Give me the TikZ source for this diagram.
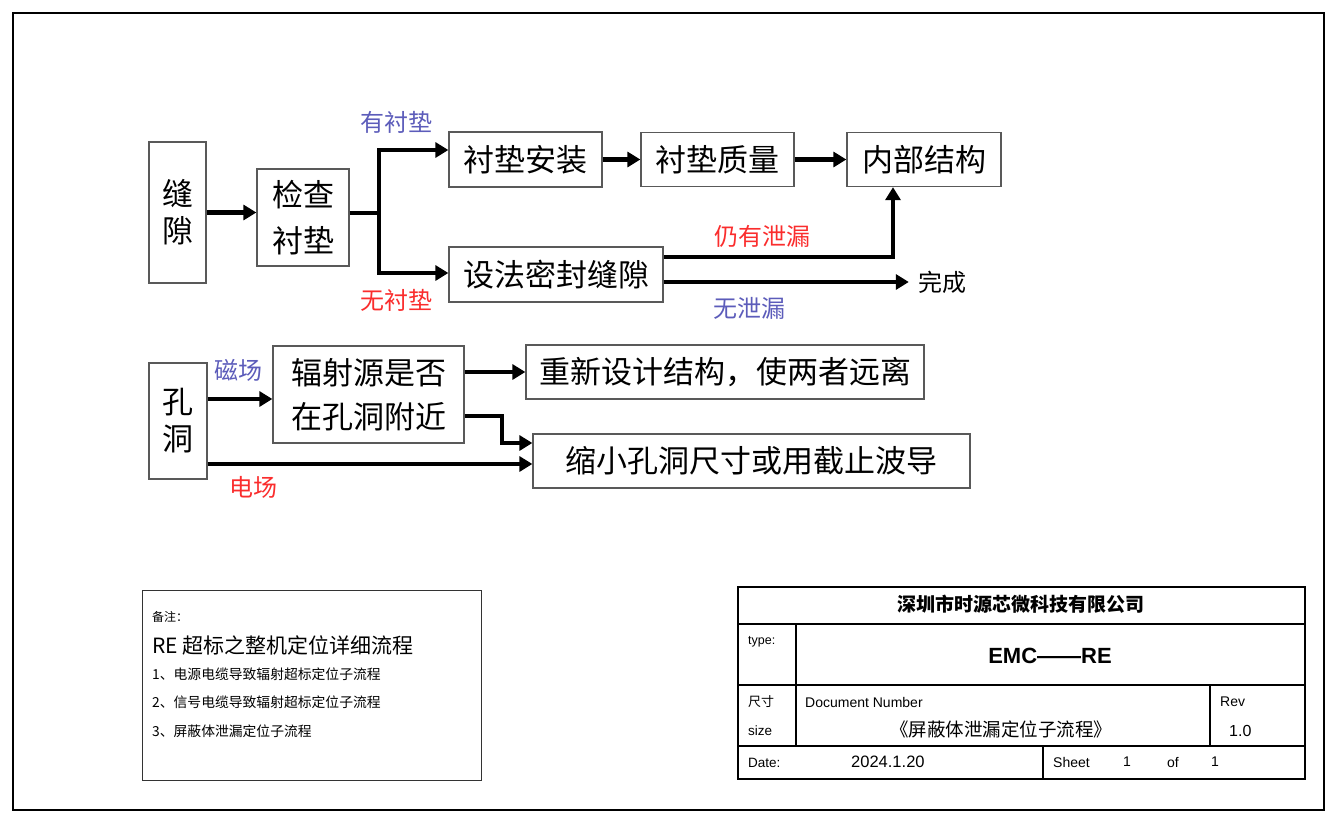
\documentclass[tikz,border=0pt]{standalone}
\usepackage{fontspec}
\setmainfont{Liberation Sans}
\newfontfamily\cjk{Noto Sans CJK SC}
\usepackage{tikz}
\usetikzlibrary{positioning, arrows.meta}
\definecolor{yesblue}{RGB}{92,92,186}
\definecolor{nored}{RGB}{250,45,45}

\begin{document}
\begin{tikzpicture}[x=1pt, y=-1pt,
    block/.style={rectangle, draw=black!65, line width=1.3pt, inner sep=0pt,
    align=center, font=\cjk\fontsize{31}{37}\selectfont},
    arrow/.style={-{Triangle[length=13pt, width=15pt]}, line width=4.5pt},
    tag/.style={inner sep=0pt, font=\cjk\fontsize{24}{24}\selectfont},
    cell/.style={anchor=west, inner sep=0pt, font=\fontsize{13.5}{15}\selectfont},
    note/.style={anchor=west, inner sep=0pt, font=\cjk\fontsize{13.8}{15}\selectfont},
]
\useasboundingbox (0,0) rectangle (1342,819);
\draw[line width=2pt] (13,13) rectangle (1324,810);

% seam branch
\node[block, minimum width=57pt, minimum height=141pt] (gap) at (177.5,212.5) {缝\\隙};
\node[block, minimum width=92pt, minimum height=97pt, font=\cjk\fontsize{31}{46}\selectfont] (check) at (303,217.5) {检查\\衬垫};
\node[block, minimum width=153pt, minimum height=55pt] (pad) at (525.5,159.5) {衬垫安装};
\node[block, minimum width=153pt, minimum height=54pt] (padq) at (717.5,159.5) {衬垫质量};
\node[block, minimum width=154pt, minimum height=54pt] (inner) at (924,159.5) {内部结构};
\node[block, minimum width=214pt, minimum height=55pt] (seal) at (556,274.5) {设法密封缝隙};
\node[tag, inner sep=9pt, text=black] (done) at (942,282) {完成};

\coordinate (fork) at (379,213);
\coordinate (turn) at (893,257);

\draw[arrow] (gap) -- (gap -| check.west);
\draw[line width=4.5pt] (check.east |- fork) -- (fork);
\draw[arrow] (fork) |- (pad.west |- 0,150);
\draw[arrow] (fork) |- (seal.west |- 0,273);
\draw[arrow] (pad) -- (padq);
\draw[arrow] (padq) -- (inner);
\draw[arrow] (seal.east |- turn) -- (turn) -- (turn |- inner.south);
\draw[arrow] (seal.east |- done) -- (done.west);

\node[tag, text=yesblue] (haspad) at (396,122) {有衬垫};
\node[tag, text=nored] (nopad) at (396,300) {无衬垫};
\node[tag, text=nored] (still) at (762,236) {仍有泄漏};
\node[tag, text=yesblue] (noleak) at (749,308) {无泄漏};

% hole branch
\node[block, minimum width=58pt, minimum height=116pt] (hole) at (178,421) {孔\\洞};
\node[block, minimum width=191pt, minimum height=97pt, font=\cjk\fontsize{31}{44}\selectfont] (src) at (368.5,394.5) {辐射源是否\\在孔洞附近};
\node[block, minimum width=398pt, minimum height=54pt] (redesign) at (725,372) {重新设计结构，使两者远离};
\node[block, minimum width=437pt, minimum height=54pt] (shrink) at (751.5,461) {缩小孔洞尺寸或用截止波导};

\coordinate (bend) at (502,416);

\draw[arrow] (hole.east |- 0,399) -- (src.west |- 0,399);
\draw[arrow] (hole.east |- 0,464) -- (shrink.west |- 0,464);
\draw[arrow] (src.east |- redesign) -- (redesign.west);
\draw[arrow] (src.east |- bend) -- (bend) |- (shrink.west |- 0,443);

\node[tag, text=yesblue] (magnetic) at (238,370) {磁场};
\node[tag, text=nored] (electric) at (253,487) {电场};

% notes
\draw[line width=1pt, draw=black!80] (142,590) rectangle (481,780);
\node[note, font=\cjk\fontsize{12}{14}\selectfont] (remark) at (152,617) {备注：};
\node[note, font=\cjk\fontsize{21}{24}\selectfont] (notetitle) at (152,645) {RE 超标之整机定位详细流程};
\node[note] (note1) at (152,674) {1、电源电缆导致辐射超标定位子流程};
\node[note] (note2) at (152,702) {2、信号电缆导致辐射超标定位子流程};
\node[note] (note3) at (152,731) {3、屏蔽体泄漏定位子流程};

% title block
\draw[line width=2.4pt] (738,587) rectangle (1305,779);
\draw[line width=2pt] (738,624) -- (1305,624);
\draw[line width=2pt] (738,685) -- (1305,685);
\draw[line width=2pt] (738,746) -- (1305,746);
\draw[line width=2pt] (796,624) -- (796,746);
\draw[line width=2pt] (1210,685) -- (1210,746);
\draw[line width=2pt] (1043,746) -- (1043,779);

\node[inner sep=0pt, font=\cjk\bfseries\fontsize{19}{21}\selectfont] (company) at (1021,604) {深圳市时源芯微科技有限公司};
\node[cell, font=\fontsize{12.5}{14}\selectfont] (typelab) at (748,642) {type:};
\node[inner sep=0pt, font=\bfseries\fontsize{22}{24}\selectfont] (typeval) at (1050,656) {EMC——RE};
\node[cell, font=\cjk\fontsize{13}{15}\selectfont] (sizecn) at (748,702) {尺寸};
\node[cell] (sizelab) at (748,731) {size};
\node[cell, font=\fontsize{14}{16}\selectfont] (docnum) at (805,702) {Document Number};
\node[inner sep=0pt, font=\cjk\fontsize{18.5}{20}\selectfont] (docname) at (1001,729) {《屏蔽体泄漏定位子流程》};
\node[cell, font=\fontsize{14}{16}\selectfont] (revlab) at (1220,702) {Rev};
\node[cell, font=\fontsize{16}{18}\selectfont] (revval) at (1229,731) {1.0};
\node[cell] (datelab) at (748,763) {Date:};
\node[cell, font=\fontsize{16.5}{18}\selectfont] (dateval) at (851,762) {2024.1.20};
\node[cell, font=\fontsize{14}{16}\selectfont] (sheetlab) at (1053,762) {Sheet};
\node[inner sep=0pt, font=\fontsize{14}{16}\selectfont] (sheetno) at (1127,762) {1};
\node[inner sep=0pt, font=\fontsize{14}{16}\selectfont] (oflab) at (1173,762) {of};
\node[inner sep=0pt, font=\fontsize{14}{16}\selectfont] (sheetall) at (1215,762) {1};

\end{tikzpicture}
\end{document}
